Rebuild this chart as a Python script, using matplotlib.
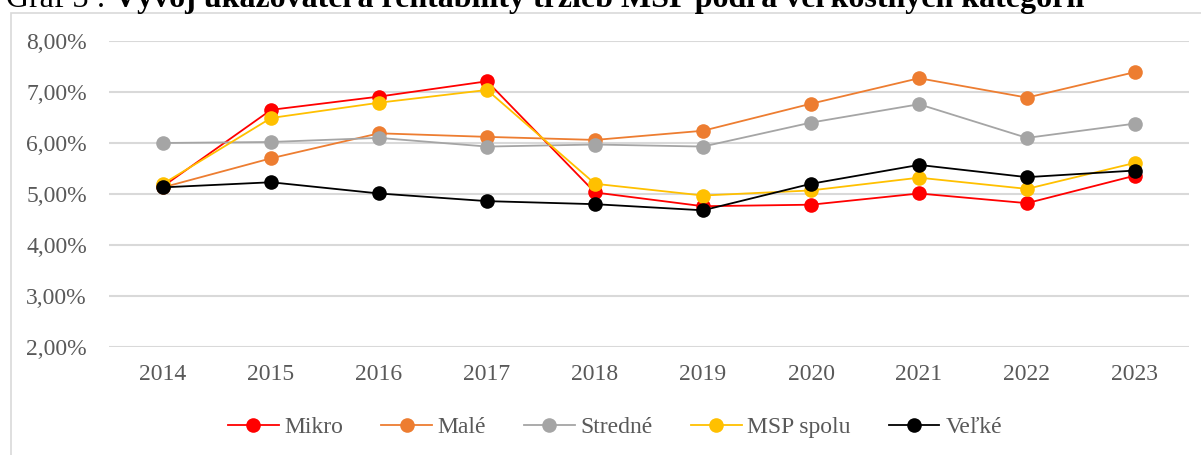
import matplotlib
matplotlib.use("Agg")
import matplotlib.pyplot as plt
from matplotlib.patches import Rectangle

plt.rcParams['font.family'] = ['Liberation Serif', 'DejaVu Serif']

years = ['2014', '2015', '2016', '2017', '2018', '2019', '2020', '2021', '2022', '2023']
mikro = [5.15, 6.65, 6.91, 7.21, 5.03, 4.76, 4.79, 5.01, 4.82, 5.36]
male = [5.13, 5.70, 6.19, 6.12, 6.06, 6.24, 6.77, 7.27, 6.89, 7.39]
stredne = [6.00, 6.02, 6.10, 5.93, 5.97, 5.93, 6.40, 6.76, 6.10, 6.38]
msp_spolu = [5.20, 6.49, 6.79, 7.04, 5.20, 4.97, 5.07, 5.32, 5.10, 5.61]
velke = [5.13, 5.23, 5.01, 4.86, 4.80, 4.68, 5.20, 5.57, 5.33, 5.46]

series = [
    ('Mikro', mikro, '#FF0000'),
    ('Malé', male, '#ED7D31'),
    ('Stredné', stredne, '#A5A5A5'),
    ('MSP spolu', msp_spolu, '#FFC000'),
    ('Veľké', velke, '#000000'),
]

fig = plt.figure(figsize=(12.01, 4.55), dpi=100)
ax = fig.add_axes([0.0908, 0.2374, 0.8992, 0.6725])

# chart area frame
fig.patches.append(Rectangle((11 / 1201, -0.1), 1.2, 1 - 13 / 455 + 0.1,
                             transform=fig.transFigure, fill=False,
                             edgecolor='#D9D9D9', linewidth=1.2))

x = range(len(years))
for name, vals, col in series:
    ax.plot(x, vals, color=col, linewidth=1.3, marker='o', markersize=10.5,
            markeredgewidth=0, label=name)

ax.set_xlim(-0.5, len(years) - 0.5)
ax.set_ylim(2, 8)
ax.set_yticks([2, 3, 4, 5, 6, 7, 8])
ax.set_yticklabels([f'{v:.2f}%'.replace('.', ',') for v in range(2, 9)])
ax.set_xticks(list(x))
ax.set_xticklabels(years)
ax.tick_params(length=0, labelsize=17, labelcolor='#595959')
ax.tick_params(axis='y', pad=16)
ax.tick_params(axis='x', pad=12)
ax.grid(axis='y', color='#D9D9D9', linewidth=1.5)
ax.set_axisbelow(True)
for s in ax.spines.values():
    s.set_visible(False)

leg = fig.legend(loc='center', bbox_to_anchor=(0.512, 1 - 427 / 455), ncol=5,
                 frameon=False, fontsize=17, handlelength=2.15,
                 handletextpad=0.25, columnspacing=1.6)
for t in leg.get_texts():
    t.set_color('#595959')

# caption above the chart, partly outside the canvas
t1 = fig.text(0.005, 1 - 7 / 455, 'Graf 3 : ', fontsize=23, va='baseline')
fig.canvas.draw()
bb = t1.get_window_extent()
fig.text(bb.x1 / fig.bbox.width, 1 - 7 / 455,
         'Vývoj ukazovateľa rentability tržieb MSP podľa veľkostných kategórií',
         fontsize=23, fontweight='bold', va='baseline')

fig.savefig('out.png', dpi=100)
